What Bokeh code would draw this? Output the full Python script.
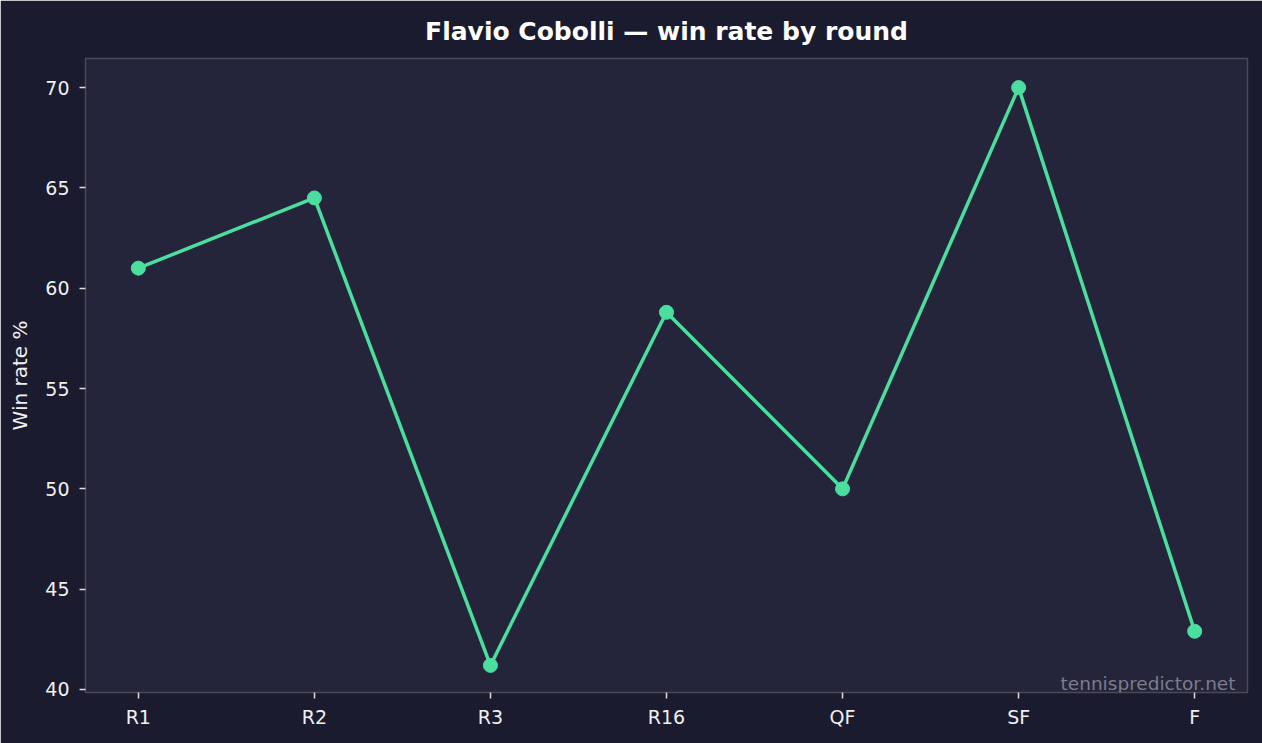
from bokeh.plotting import figure
from bokeh.models import FixedTicker, Range1d, Label
from bokeh.embed import file_html
from bokeh.resources import INLINE

rounds = ["R1", "R2", "R3", "R16", "QF", "SF", "F"]
win_rate = [61.0, 64.5, 41.2, 58.8, 50.0, 70.0, 42.9]
y_ticks = [40, 45, 50, 55, 60, 65, 70]

xs = list(range(len(rounds)))

BG = "#1b1b2f"
PANEL = "#24253a"
LINE = "#4ade9f"
TXT = "#f0f0f0"

p = figure(width=1262, height=743, output_backend="svg", toolbar_location=None,
           x_range=Range1d(-0.3, 6.3), y_range=Range1d(39.85, 71.45),
           min_border_left=85, min_border_right=15, min_border_top=58, min_border_bottom=51)
p.background_fill_color = PANEL
p.border_fill_color = BG
p.outline_line_color = "#4a4a55"
p.outline_line_width = 1.5

p.title.text = "Flavio Cobolli — win rate by round"
p.title.align = "center"
p.title.text_color = "#ffffff"
p.title.text_font = "DejaVu Sans"
p.title.text_font_style = "bold"
p.title.text_font_size = "25px"
p.title.offset = 0
p.title.standoff = 25

p.xgrid.visible = False
p.ygrid.visible = False

p.xaxis.ticker = FixedTicker(ticks=xs)
p.xaxis.major_label_overrides = {i: r for i, r in enumerate(rounds)}
p.yaxis.ticker = FixedTicker(ticks=y_ticks)
p.yaxis.axis_label = "Win rate %"

for ax in (p.xaxis[0], p.yaxis[0]):
    ax.axis_line_color = None
    ax.minor_tick_line_color = None
    ax.major_tick_line_color = "#dddddd"
    ax.major_tick_line_width = 1.5
    ax.major_tick_in = 0
    ax.major_tick_out = 6
    ax.major_label_text_color = TXT
    ax.major_label_text_font = "DejaVu Sans"
    ax.major_label_text_font_size = "19px"
    ax.axis_label_text_color = TXT
    ax.axis_label_text_font = "DejaVu Sans"
    ax.axis_label_text_font_size = "20px"
    ax.axis_label_text_font_style = "normal"
    ax.axis_label_standoff = 10

p.xaxis[0].major_label_standoff = 7
p.yaxis[0].major_label_standoff = 10

p.line(xs, win_rate, line_color=LINE, line_width=3.5)
p.scatter(xs, win_rate, size=14, fill_color=LINE, line_color=LINE)

wm = Label(x=6.3, y=39.85, x_offset=-12, y_offset=9,
           text="tennispredictor.net", text_align="right", text_baseline="alphabetic",
           text_color="#7c7c8e", text_font="DejaVu Sans", text_font_size="18.5px")
p.add_layout(wm)

open("out.html", "w").write(file_html(p, INLINE))
